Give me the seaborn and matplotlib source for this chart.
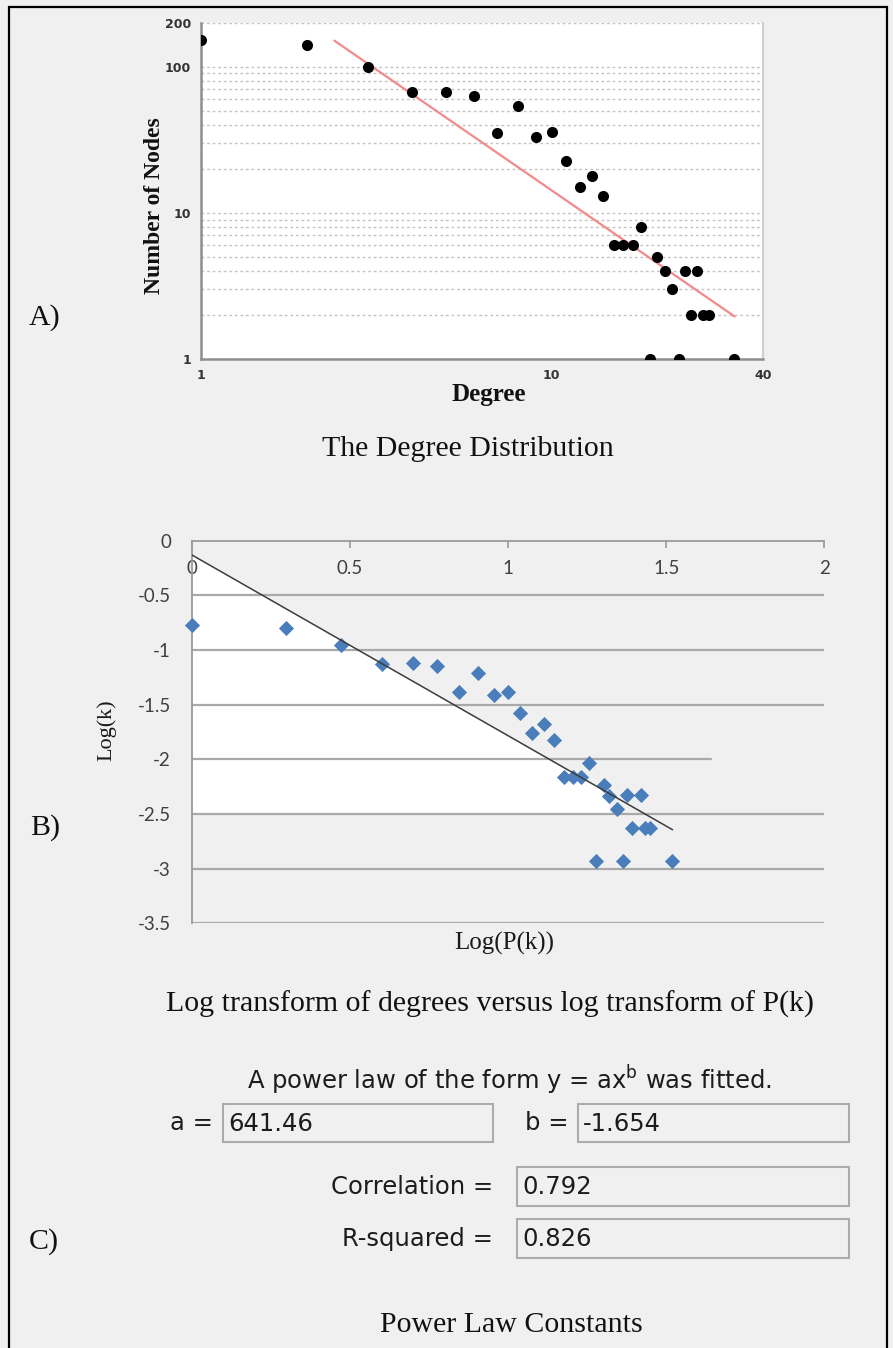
import numpy as np
import matplotlib
matplotlib.use("Agg")
import matplotlib.pyplot as plt
import seaborn as sns
from matplotlib.patches import Rectangle
from matplotlib.ticker import NullFormatter

# ---------------- data ----------------
degree = [1, 2, 3, 4, 5, 6, 7, 8, 9, 10, 11, 12, 13, 14, 15, 16, 17, 18, 19,
          20, 21, 22, 23, 24, 25, 26, 27, 28, 33]
num_nodes = [153, 140, 100, 67, 67, 63, 35, 53.5, 32.8, 35.7, 22.8, 15, 18,
             13.1, 6, 6, 6, 8, 1, 5, 4, 3, 1, 4, 2, 4, 2, 2, 1]

log_pk = [0.0, 0.299, 0.472, 0.601, 0.698, 0.775, 0.844, 0.905, 0.954, 1.0,
          1.038, 1.077, 1.112, 1.146, 1.178, 1.204, 1.230, 1.255, 1.278,
          1.304, 1.319, 1.345, 1.362, 1.377, 1.393, 1.419, 1.434, 1.449, 1.518]
log_k = [-0.769, -0.80, -0.951, -1.125, -1.119, -1.143, -1.386, -1.21, -1.413,
         -1.386, -1.574, -1.763, -1.681, -1.824, -2.158, -2.158, -2.158,
         -2.036, -2.927, -2.237, -2.334, -2.456, -2.927, -2.328, -2.632,
         -2.328, -2.632, -2.632, -2.927]

fit_a = 641.46
fit_b = -1.654
correlation = 0.792
r_squared = 0.826
fit_deg_range = [2.4, 33.2]        # extent of the fitted curve in panel A
fit_log_intercept = -0.13          # intercept of the fitted line in panel B
fit_log_range = [0.0, 1.52]        # extent of the fitted line in panel B

a_xticks = [1, 10, 40]
a_xminor = [2, 3, 4, 5, 6, 7, 8, 9, 20, 30]
a_yticks = [1, 10, 100, 200]
a_yminor = [2, 3, 4, 5, 6, 7, 8, 9, 20, 30, 40, 50, 60, 70, 80, 90]
b_xticks = [0, 0.5, 1, 1.5, 2]
b_yticks = [0, -0.5, -1, -1.5, -2, -2.5, -3, -3.5]

# ---------------- style ----------------
sns.set_theme(style="white")
plt.rcParams['font.family'] = ['DejaVu Sans']
plt.rcParams['axes.unicode_minus'] = False
plt.rcParams['mathtext.fontset'] = 'dejavusans'

BG = '#f0f0f0'
SERIF = ['Liberation Serif', 'DejaVu Serif']
W, H = 893, 1348
fig = plt.figure(figsize=(W / 100, H / 100), dpi=100, facecolor=BG)


def fx(px):
    return px / W


def fy(py):
    return 1 - py / H


# overlay in pixel coordinates for captions, border and text boxes
bg = fig.add_axes([0, 0, 1, 1], zorder=-1)
bg.set_xlim(0, W)
bg.set_ylim(H, 0)
bg.axis('off')
bg.patch.set_visible(False)

# outer border (left, top, right)
bg.plot([9, 9, 887, 887], [H + 5, 7, 7, H + 5], color='black', lw=1.6,
        solid_joinstyle='miter')

# ---------------- Panel A ----------------
L, R, T, B = 201, 763, 22.7, 359
axA = fig.add_axes([fx(L), fy(B), (R - L) / W, (B - T) / H])
axA.set_facecolor('white')
axA.set_xscale('log')
axA.set_yscale('log')

xs_fit = np.array(fit_deg_range)
ys_fit = fit_a * xs_fit ** fit_b
sns.lineplot(x=xs_fit, y=ys_fit, ax=axA, color='#f28a8a', lw=1.6, zorder=2)
sns.scatterplot(x=degree, y=num_nodes, ax=axA, color='black', s=64,
                linewidth=0, zorder=3)

axA.set_xlim(1, 40)
axA.set_ylim(1, 200)
axA.set_xticks(a_xticks)
axA.set_xticklabels([str(v) for v in a_xticks])
axA.set_xticks(a_xminor, minor=True)
axA.set_yticks(a_yticks)
axA.set_yticklabels([str(v) for v in a_yticks])
axA.set_yticks(a_yminor, minor=True)
axA.xaxis.set_minor_formatter(NullFormatter())
axA.yaxis.set_minor_formatter(NullFormatter())
axA.grid(which='both', axis='y', ls=(0, (2, 2)), color='#c4c4c4', lw=1.0)
axA.grid(False, axis='x', which='both')
for s in ['left', 'bottom']:
    axA.spines[s].set_color('#8f8f8f')
    axA.spines[s].set_linewidth(1.8)
axA.spines['top'].set_visible(False)
axA.spines['right'].set_color('#cfcfcf')
axA.spines['right'].set_linewidth(1.5)
axA.tick_params(which='major', direction='out', length=3, width=1,
                color='#8f8f8f', labelsize=9, labelcolor='#333333', pad=4)
axA.tick_params(which='minor', direction='out', length=2, width=0.8,
                color='#9a9a9a')
for lab in axA.get_xticklabels() + axA.get_yticklabels():
    lab.set_fontweight('bold')

axA.set_ylabel('Number of Nodes', family=SERIF, fontweight='bold',
               fontsize=17, color='#111111', va='center')
axA.yaxis.set_label_coords((154 - L) / (R - L), (B - 206) / (B - T))
axA.set_xlabel('Degree', family=SERIF, fontweight='bold', fontsize=18,
               color='#111111', va='center')
axA.xaxis.set_label_coords((489 - L) / (R - L), (B - 394) / (B - T))

# ---------------- Panel B ----------------
L2, R2, T2, B2 = 191.8, 824.4, 540.7, 923.3
axB = fig.add_axes([fx(L2), fy(B2), (R2 - L2) / W, (B2 - T2) / H])
axB.set_facecolor('none')
axB.set_xlim(0, 2)
axB.set_ylim(-3.5, 0)

# white patch under the fitted line (as in the reference screenshot)
wx = np.array([0.0, 1.32])
axB.fill_between(wx, fit_log_intercept + fit_b * wx, -2.5, color='white',
                 lw=0, zorder=0)

for v in b_yticks[1:]:
    axB.axhline(v, color='#a9a9a9', lw=1.6,
                xmax=(0.82 if v == -2 else 1.0), zorder=1)

lx = np.array(fit_log_range)
sns.scatterplot(x=log_pk, y=log_k, ax=axB, marker='D', s=60,
                color='#4a7ebb', linewidth=0, zorder=3, clip_on=False)
sns.lineplot(x=lx, y=fit_log_intercept + fit_b * lx, ax=axB,
             color='#3c3c3c', lw=1.1, zorder=4)

axB.xaxis.set_ticks_position('top')
axB.set_xticks(b_xticks)
axB.set_xticklabels([f'{v:g}' for v in b_xticks])
axB.set_yticks(b_yticks)
axB.set_yticklabels([f'{v:g}' for v in b_yticks])
axB.tick_params(axis='x', direction='in', length=5, width=1.2,
                color='#9a9a9a', pad=-26, labelsize=13.5,
                labelcolor='#404040', labelfontfamily='Lato')
axB.tick_params(axis='y', direction='out', length=6, width=1.5,
                color='#a9a9a9', pad=9, labelsize=13.5,
                labelcolor='#404040', labelfontfamily='Lato')
axB.grid(False)
axB.spines['bottom'].set_visible(False)
axB.spines['right'].set_visible(False)
axB.spines['top'].set_color('#9a9a9a')
axB.spines['top'].set_linewidth(1.3)
axB.spines['left'].set_color('#9a9a9a')
axB.spines['left'].set_linewidth(1.3)

axB.set_ylabel('Log(k)', family=SERIF, fontsize=16, color='#1a1a1a',
               va='center')
axB.yaxis.set_label_coords((107 - L2) / (R2 - L2), (B2 - 730) / (B2 - T2))
axB.set_xlabel('Log(P(k))', family=SERIF, fontsize=18, color='#1a1a1a',
               va='center')
axB.xaxis.set_label_coords((504 - L2) / (R2 - L2), (B2 - 943) / (B2 - T2))

# ---------------- captions ----------------
cap = dict(family=SERIF, fontsize=21.5, color='#111111', va='center')
bg.text(45, 318, 'A)', ha='center', **cap)
bg.text(468, 449, 'The Degree Distribution', ha='center', **cap)
bg.text(45, 828, 'B)', ha='center', **cap)
bg.text(490, 1004, 'Log transform of degrees versus log transform of P(k)',
        ha='center', **cap)
bg.text(44, 1242, 'C)', ha='center', **cap)
bg.text(511, 1325, 'Power Law Constants', ha='center', **cap)

# ---------------- Panel C (power-law constants) ----------------
tk = dict(fontsize=17.5, color='#1c1c1c', va='center')
bg.text(509, 1080, r'A power law of the form y = ax$^{\mathrm{b}}$ was fitted.',
        ha='center', **tk)


def box(x, y, w, h, value):
    bg.add_patch(Rectangle((x, y), w, h, facecolor=BG, edgecolor='#ababab',
                           lw=1.5))
    bg.text(x + 5, y + h / 2 + 1, value, ha='left', **tk)


bg.text(213, 1123, 'a =', ha='right', **tk)
box(223, 1104, 270, 38, f'{fit_a:.2f}')
bg.text(569, 1123, 'b =', ha='right', **tk)
box(578, 1104, 271, 38, f'{fit_b:.3f}')
bg.text(493, 1187, 'Correlation =', ha='right', **tk)
box(517, 1167, 332, 39, f'{correlation:.3f}')
bg.text(493, 1239, 'R-squared =', ha='right', **tk)
box(517, 1219, 332, 39, f'{r_squared:.3f}')

fig.savefig('out.png', dpi=100, facecolor=BG)
